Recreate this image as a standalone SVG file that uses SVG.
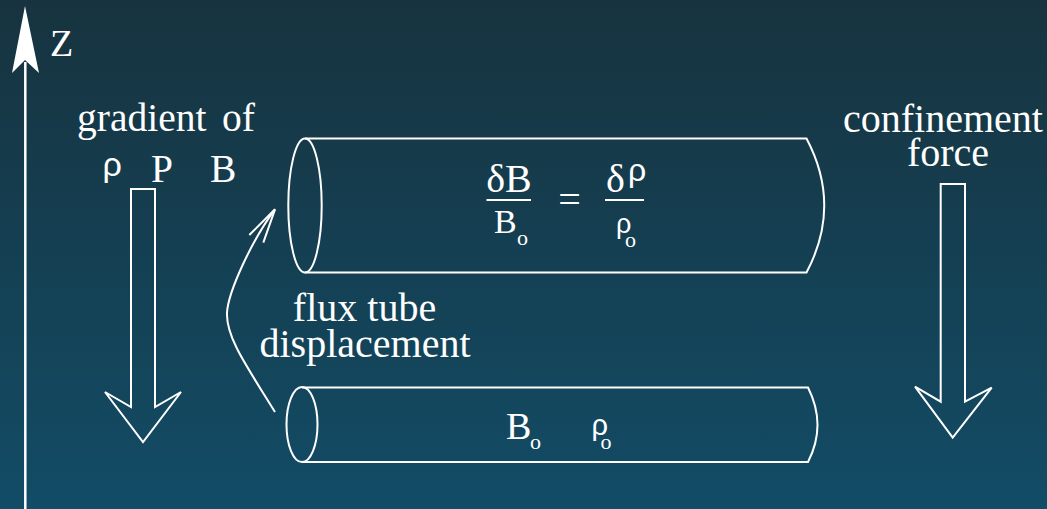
<svg xmlns="http://www.w3.org/2000/svg" width="1047" height="509" viewBox="0 0 1047 509">
<defs>
<linearGradient id="bg" x1="0" y1="0" x2="0" y2="1">
<stop offset="0" stop-color="#17333f"/>
<stop offset="1" stop-color="#124c66"/>
</linearGradient>
<style>
.ln{fill:none;stroke:#ffffff;stroke-width:2}
.t{fill:#ffffff}
.g{fill:#ffffff}
</style>
</defs>
<rect width="1047" height="509" fill="url(#bg)"/>

<g id="z-axis">
<line x1="25.3" y1="509" x2="25.3" y2="62" stroke="#ffffff" stroke-width="2.5"/>
<path d="M25,6 L39,73 L25,60 L12,73 Z" fill="#ffffff"/>
<text class="t" font-family="Liberation Serif, Times New Roman, serif" x="50" y="55.7" font-size="38">Z</text>
</g>

<g id="gradient-label" font-family="Liberation Serif, Times New Roman, serif">
<text class="t" x="77" y="130.7" font-size="39.5">gradient<tspan x="222">of</tspan></text>
<text class="g" font-family="Liberation Sans, Arial, sans-serif" x="102.5" y="176" font-size="34">ρ</text>
<text class="t" x="151" y="181.7" font-size="39.5">P</text>
<text class="t" x="210" y="181.7" font-size="39.5">B</text>
</g>

<g id="gradient-arrow">
<path class="ln" d="M131,189 H155 V407 L181,392 L143,442 L105,392 L131,407 Z"/>
</g>

<g id="top-tube" font-family="Liberation Serif, Times New Roman, serif">
<ellipse class="ln" cx="305" cy="205.5" rx="16.7" ry="67"/>
<path class="ln" d="M305,138.5 H806.5 Q842,205.5 806.5,272.5 H305"/>
<text class="t" x="509" y="191.7" font-size="40" text-anchor="middle">δB</text>
<line class="ln" x1="486.5" y1="200" x2="531" y2="200"/>
<text class="t" x="494" y="233.3" font-size="34">B</text>
<text class="t" x="517" y="245" font-size="22">o</text>
<text class="t" x="569.5" y="213" font-size="40" text-anchor="middle">=</text>
<text class="t" x="606" y="191.7" font-size="40">δ</text>
<text class="g" font-family="Liberation Sans, Arial, sans-serif" x="628" y="181" font-size="32">ρ</text>
<line class="ln" x1="605" y1="200" x2="644" y2="200"/>
<text class="g" font-family="Liberation Sans, Arial, sans-serif" x="616" y="233" font-size="27">ρ</text>
<text class="t" x="625" y="246.5" font-size="22">o</text>
</g>

<g id="bottom-tube" font-family="Liberation Serif, Times New Roman, serif">
<ellipse class="ln" cx="302" cy="424.5" rx="15.5" ry="37.5"/>
<path class="ln" d="M302,387.5 H808 Q827,425 808,462 H302"/>
<text class="t" x="506" y="439.3" font-size="38">B</text>
<text class="t" x="530" y="449.3" font-size="22">o</text>
<text class="g" font-family="Liberation Sans, Arial, sans-serif" x="591.5" y="435" font-size="29">ρ</text>
<text class="t" x="600.5" y="449.3" font-size="22">o</text>
</g>

<g id="displacement-label" font-family="Liberation Serif, Times New Roman, serif">
<text class="t" x="364.5" y="320.7" font-size="40" text-anchor="middle">flux tube</text>
<text class="t" x="365" y="356.7" font-size="40" text-anchor="middle">displacement</text>
</g>

<g id="confinement-label" font-family="Liberation Serif, Times New Roman, serif">
<text class="t" x="943" y="131.7" font-size="40" text-anchor="middle">confinement</text>
<text class="t" x="948" y="166" font-size="40" text-anchor="middle">force</text>
</g>

<g id="confinement-arrow">
<path class="ln" d="M940.7,184 H965 V401.7 L991.7,387.7 L952.7,437.7 L915,386.7 L940.7,401.7 Z"/>
</g>

<g id="connectors">
<path class="ln" d="M275,412 C248,368 226,338 227,313 C228,292 252,240 275,209.3"/>
<path class="ln" d="M249.3,235 L275,209.3 L263.3,242.7"/>
</g>
</svg>
